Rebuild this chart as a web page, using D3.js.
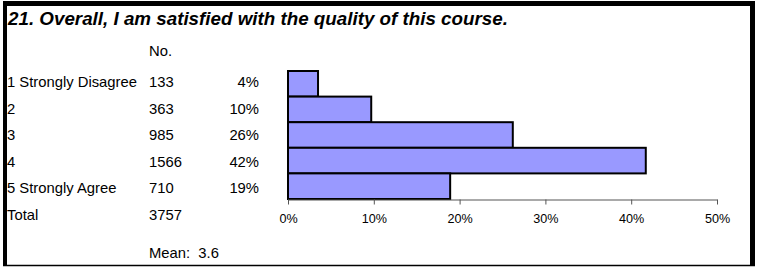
<!DOCTYPE html>
<html>
<head>
<meta charset="utf-8">
<script src="https://cdn.jsdelivr.net/npm/d3@7/dist/d3.min.js"></script>
<style>
  body { margin: 0; background: #fff; }
  svg { display: block; font-family: "Liberation Sans", Arial, sans-serif; }
</style>
</head>
<body>
<div id="chart"></div>
<script>
var title = '21. Overall, I am satisfied with the quality of this course.';
var categories = ['1 Strongly Disagree', '2', '3', '4', '5 Strongly Agree'];
var counts = [133, 363, 985, 1566, 710];
var pctLabels = ['4%', '10%', '26%', '42%', '19%'];
var pctValues = [3.5, 9.7, 26.2, 41.7, 18.9];
var total = 3757;
var mean = '3.6';
var xTicks = [0, 10, 20, 30, 40, 50];

var width = 760, height = 267;

var svg = d3.select('#chart').append('svg')
  .attr('width', width)
  .attr('height', height);

// frame
svg.append('line').attr('x1', 3).attr('x2', 755).attr('y1', 3.5).attr('y2', 3.5)
  .attr('stroke', '#000').attr('stroke-width', 5);
svg.append('line').attr('x1', 5).attr('x2', 5).attr('y1', 1).attr('y2', 266)
  .attr('stroke', '#000').attr('stroke-width', 4);
svg.append('line').attr('x1', 752.5).attr('x2', 752.5).attr('y1', 1).attr('y2', 266)
  .attr('stroke', '#000').attr('stroke-width', 5);
svg.append('line').attr('x1', 3).attr('x2', 755).attr('y1', 265.5).attr('y2', 265.5)
  .attr('stroke', '#000').attr('stroke-width', 1.5);

svg.append('text')
  .attr('x', 8).attr('y', 25)
  .attr('font-size', 18.8).attr('font-weight', 'bold').attr('font-style', 'italic')
  .text(title);

var x = d3.scaleLinear().domain([0, 50]).range([288, 717]);
var y = d3.scaleBand().domain(categories).range([71, 199]).padding(0);

// table of values on the left
var rowY = d3.scalePoint().domain(d3.range(categories.length + 1)).range([87, 220]);

var table = svg.append('g').attr('font-size', 14.8).attr('fill', '#000');

table.append('text').attr('x', 149).attr('y', 56).text('No.');

categories.forEach(function(c, i) {
  table.append('text').attr('x', 7).attr('y', rowY(i)).text(c);
  table.append('text').attr('x', 149).attr('y', rowY(i)).text(counts[i]);
  table.append('text').attr('x', 259).attr('y', rowY(i))
    .attr('text-anchor', 'end').text(pctLabels[i]);
});

table.append('text').attr('x', 7).attr('y', rowY(categories.length)).text('Total');
table.append('text').attr('x', 149).attr('y', rowY(categories.length)).text(total);
table.append('text').attr('x', 149).attr('y', 258).attr('xml:space', 'preserve')
  .text('Mean:  ' + mean);

// bars
svg.append('g').selectAll('rect')
  .data(categories)
  .enter()
  .append('rect')
  .attr('x', x(0))
  .attr('y', function(d) { return y(d); })
  .attr('width', function(d, i) { return x(pctValues[i]) - x(0); })
  .attr('height', y.bandwidth())
  .attr('fill', '#9999ff')
  .attr('stroke', '#000')
  .attr('stroke-width', 2);

// axis
var axis = svg.append('g')
  .attr('transform', 'translate(0,199.5)')
  .call(d3.axisBottom(x).tickValues(xTicks)
    .tickFormat(function(d) { return d + '%'; })
    .tickSize(5).tickSizeOuter(0).tickPadding(10));

axis.select('.domain').attr('stroke', '#555');
axis.selectAll('.tick line').attr('stroke', '#555');
axis.selectAll('.tick text')
  .attr('font-size', 12.6)
  .attr('font-family', '"Liberation Sans", Arial, sans-serif')
  .attr('fill', '#000');
</script>
</body>
</html>
